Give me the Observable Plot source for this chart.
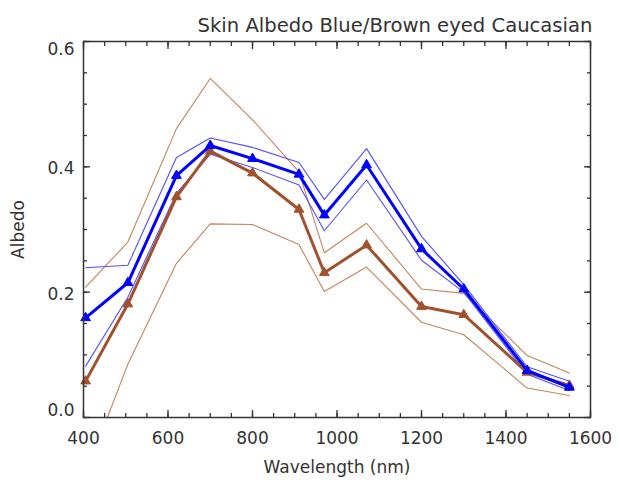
<!DOCTYPE html>
<html>
<head>
<meta charset="utf-8">
<script src="https://cdn.jsdelivr.net/npm/d3@7"></script>
<script src="https://cdn.jsdelivr.net/npm/@observablehq/plot@0.6"></script>
<style>
  html, body { margin: 0; padding: 0; background: #fff; }
  svg { font-family: "DejaVu Sans", sans-serif; }
</style>
</head>
<body>
<div id="chart"></div>
<script>
const title = "Skin Albedo Blue/Brown eyed Caucasian";
const xLabel = "Wavelength (nm)";
const yLabel = "Albedo";

const wavelengths = [405, 505, 620, 700, 800, 910, 970, 1070, 1200, 1300, 1450, 1550];

const blueMean  = [0.159, 0.215, 0.386, 0.434, 0.413, 0.388, 0.323, 0.403, 0.269, 0.205, 0.075, 0.048];
const blueUpper = [0.239, 0.243, 0.415, 0.446, 0.431, 0.407, 0.348, 0.429, 0.289, 0.212, 0.081, 0.058];
const blueLower = [0.082, 0.192, 0.358, 0.420, 0.399, 0.371, 0.298, 0.379, 0.251, 0.200, 0.069, 0.043];

const brownMean  = [0.058, 0.181, 0.352, 0.425, 0.390, 0.332, 0.231, 0.275, 0.177, 0.164, 0.072, 0.051];
const brownUpper = [0.208, 0.280, 0.461, 0.541, 0.475, 0.392, 0.263, 0.310, 0.205, 0.198, 0.099, 0.071];
const brownLower = [-0.090, 0.085, 0.246, 0.309, 0.308, 0.276, 0.201, 0.240, 0.152, 0.132, 0.047, 0.035];

const xMajor = [400, 600, 800, 1000, 1200, 1400, 1600];
const xMinor = d3.range(400, 1601, 50);
const yMajor = [0.0, 0.2, 0.4, 0.6];
const yMinor = d3.range(0, 0.6001, 0.05);

const toRows = (vals) => wavelengths.map((w, i) => ({w, v: vals[i]}));

const BLUE = "#0000ff";
const BLUE_THIN = "#5050ff";
const BROWN = "#a0522d";
const BROWN_THIN = "#c4845c";
const AX = "#333333";

const chart = Plot.plot({
  width: 619,
  height: 480,
  marginLeft: 83,
  marginRight: 29,
  marginTop: 41,
  marginBottom: 63,
  style: {fontFamily: "DejaVu Sans, sans-serif", background: "#fff"},
  x: {domain: [400, 1600]},
  y: {domain: [0, 0.6]},
  marks: [
    // thin bands
    Plot.line(toRows(brownUpper), {x: "w", y: "v", stroke: BROWN_THIN, strokeWidth: 1.1, clip: true}),
    Plot.line(toRows(brownLower), {x: "w", y: "v", stroke: BROWN_THIN, strokeWidth: 1.1, clip: true}),
    Plot.line(toRows(blueUpper), {x: "w", y: "v", stroke: BLUE_THIN, strokeWidth: 1.1, clip: true}),
    Plot.line(toRows(blueLower), {x: "w", y: "v", stroke: BLUE_THIN, strokeWidth: 1.1, clip: true}),
    // means
    Plot.line(toRows(brownMean), {x: "w", y: "v", stroke: BROWN, strokeWidth: 3, clip: true}),
    Plot.dot(toRows(brownMean), {x: "w", y: "v", symbol: "triangle", r: 3.6, fill: BROWN, stroke: BROWN, strokeWidth: 1}),
    Plot.line(toRows(blueMean), {x: "w", y: "v", stroke: BLUE, strokeWidth: 3, clip: true}),
    Plot.dot(toRows(blueMean), {x: "w", y: "v", symbol: "triangle", r: 3.6, fill: BLUE, stroke: BLUE, strokeWidth: 1}),
    // frame
    Plot.frame({stroke: AX, strokeWidth: 1.5}),
    // inward ticks x
    Plot.axisX({anchor: "bottom", ticks: xMajor, tickSize: 7, dy: -7, text: null, stroke: AX, strokeWidth: 1.3, label: null}),
    Plot.axisX({anchor: "bottom", ticks: xMinor, tickSize: 4, dy: -4, text: null, stroke: AX, strokeWidth: 1.3, label: null}),
    Plot.axisX({anchor: "top", ticks: xMajor, tickSize: 7, dy: 7, text: null, stroke: AX, strokeWidth: 1.3, label: null}),
    Plot.axisX({anchor: "top", ticks: xMinor, tickSize: 4, dy: 4, text: null, stroke: AX, strokeWidth: 1.3, label: null}),
    // inward ticks y
    Plot.axisY({anchor: "left", ticks: yMajor, tickSize: 7, dx: 7, text: null, stroke: AX, strokeWidth: 1.3, label: null}),
    Plot.axisY({anchor: "left", ticks: yMinor, tickSize: 4, dx: 4, text: null, stroke: AX, strokeWidth: 1.3, label: null}),
    Plot.axisY({anchor: "right", ticks: yMajor, tickSize: 7, dx: -7, text: null, stroke: AX, strokeWidth: 1.3, label: null}),
    Plot.axisY({anchor: "right", ticks: yMinor, tickSize: 4, dx: -4, text: null, stroke: AX, strokeWidth: 1.3, label: null}),
    // tick labels
    Plot.axisX({anchor: "bottom", ticks: xMajor, tickSize: 0, tickPadding: 14, tickFormat: d3.format("d"), fontSize: 17, fill: AX, label: null}),
    Plot.axisY({anchor: "left", ticks: [0.2, 0.4], tickSize: 0, tickPadding: 9, tickFormat: d3.format(".1f"), fontSize: 17, fill: AX, dy: 2, label: null}),
    Plot.axisY({anchor: "left", ticks: [0.6], tickSize: 0, tickPadding: 9, tickFormat: d3.format(".1f"), fontSize: 17, fill: AX, dy: 8, label: null}),
    Plot.axisY({anchor: "left", ticks: [0.0], tickSize: 0, tickPadding: 9, tickFormat: d3.format(".1f"), fontSize: 17, fill: AX, dy: -7, label: null}),
    // axis titles and title
    Plot.text([xLabel], {frameAnchor: "bottom", dy: 50, fontSize: 17, fill: AX, lineAnchor: "middle"}),
    Plot.text([yLabel], {frameAnchor: "left", dx: -65, rotate: -90, fontSize: 17, fill: AX, textAnchor: "middle"}),
    Plot.text([title], {frameAnchor: "top", dx: 58, dy: -10, lineAnchor: "bottom", fontSize: 19.6, fill: AX})
  ]
});

document.getElementById("chart").appendChild(chart);
</script>
</body>
</html>
